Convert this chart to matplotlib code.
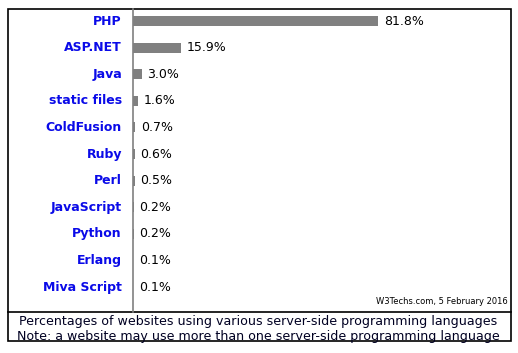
import matplotlib
matplotlib.use('Agg')
import matplotlib.pyplot as plt
from matplotlib.patches import Rectangle
from matplotlib.lines import Line2D

languages = ['PHP', 'ASP.NET', 'Java', 'static files', 'ColdFusion', 'Ruby',
             'Perl', 'JavaScript', 'Python', 'Erlang', 'Miva Script']
shares = [81.8, 15.9, 3.0, 1.6, 0.7, 0.6, 0.5, 0.2, 0.2, 0.1, 0.1]
caption = ['Percentages of websites using various server-side programming languages',
           'Note: a website may use more than one server-side programming language']
credit = 'W3Techs.com, 5 February 2016'

W, H = 518, 353
fig = plt.figure(figsize=(W / 100, H / 100), dpi=100)

def fx(px):
    return px / W

def fy(py):
    return 1 - py / H

# bar area: pixels x 133..508, y 8..311
ax = fig.add_axes([fx(133), fy(311), fx(508 - 133), (311 - 8) / H])
ypos = list(range(len(languages)))
ax.barh(ypos, shares, height=0.38, color='#808080', left=0)
ax.set_xlim(0, 125)
ax.set_ylim(10.9, -0.49)
ax.axis('off')
for y, v in zip(ypos, shares):
    ax.annotate(f'{v:.1f}%', (v, y), xytext=(4, 0), textcoords='offset points',
                va='center', ha='left', fontsize=9, color='black')
for y, name in zip(ypos, languages):
    ax.annotate(name, (0, y), xytext=(-8, 0), textcoords='offset points',
                va='center', ha='right', fontsize=9, fontweight='bold',
                color='#0a0ae8', annotation_clip=False)

# frame, divider and axis line
fig.add_artist(Rectangle((fx(7.5), fy(340.5)), fx(503), (340.5 - 8.5) / H,
                         fill=False, edgecolor='black', lw=1.2,
                         transform=fig.transFigure))
fig.add_artist(Line2D([fx(7.5), fx(510.5)], [fy(311.5), fy(311.5)],
                      color='black', lw=1.2, transform=fig.transFigure))
fig.add_artist(Line2D([fx(132.5), fx(132.5)], [fy(8.5), fy(311.5)],
                      color='#808080', lw=1.2, transform=fig.transFigure))

fig.text(fx(508), fy(306), credit, ha='right', va='bottom', fontsize=6)
fig.text(fx(258), fy(322), caption[0], ha='center', va='center', fontsize=9.1,
         color='#000022')
fig.text(fx(258), fy(336.5), caption[1], ha='center', va='center', fontsize=9.1,
         color='#000022')

plt.savefig('out.png', dpi=100)
plt.close()
